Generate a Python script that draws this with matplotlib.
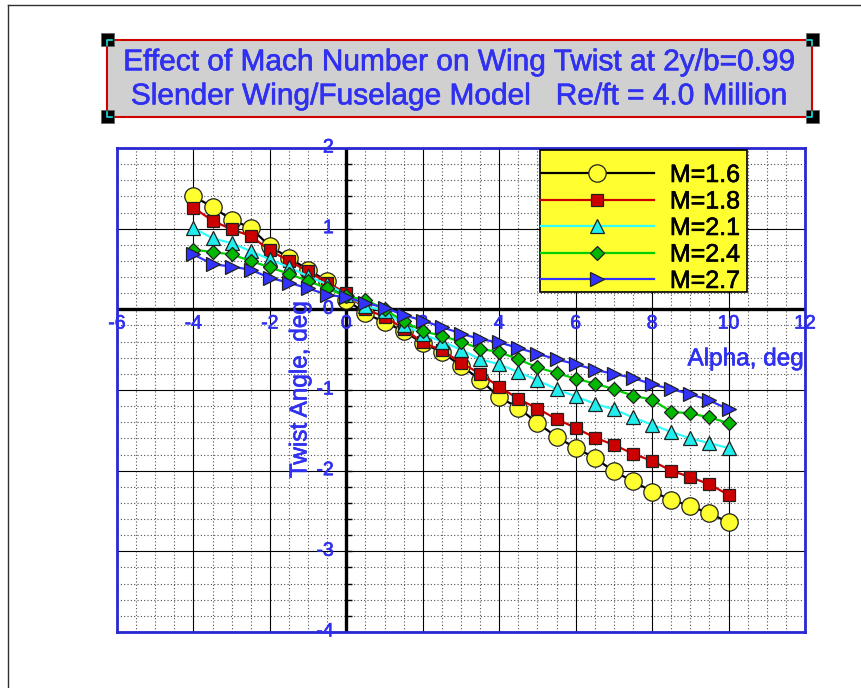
import matplotlib
matplotlib.use("Agg")
import matplotlib.pyplot as plt
import matplotlib.patches as mpatches
import matplotlib.transforms as mtransforms
import matplotlib.patheffects as pe
from matplotlib.ticker import MultipleLocator
import numpy as np

plt.rcParams['font.family'] = ['Liberation Sans', 'DejaVu Sans']

# angle of attack, deg
alpha = [-4, -3.5, -3, -2.5, -2, -1.5, -1, -0.5, 0, 0.5, 1, 1.5, 2, 2.5, 3, 3.5,
         4, 4.5, 5, 5.5, 6, 6.5, 7, 7.5, 8, 8.5, 9, 9.5, 10]

# twist angle at 2y/b = 0.99 for each Mach number, deg
twist_m16 = [1.40, 1.27, 1.11, 1.01, 0.78, 0.64, 0.49, 0.35, 0.12, -0.05, -0.16, -0.27,
             -0.42, -0.53, -0.70, -0.87, -1.09, -1.22, -1.41, -1.58, -1.72, -1.84,
             -2.01, -2.13, -2.26, -2.36, -2.44, -2.53, -2.64]
twist_m18 = [1.26, 1.10, 0.99, 0.91, 0.73, 0.60, 0.47, 0.33, 0.20, 0.00, -0.09, -0.24,
             -0.41, -0.51, -0.66, -0.80, -0.96, -1.11, -1.23, -1.36, -1.47, -1.59,
             -1.68, -1.79, -1.88, -2.00, -2.08, -2.17, -2.30]
twist_m21 = [1.01, 0.88, 0.82, 0.72, 0.62, 0.52, 0.41, 0.31, 0.18, 0.04, -0.02, -0.19,
             -0.31, -0.40, -0.50, -0.62, -0.68, -0.78, -0.88, -0.99, -1.08, -1.17,
             -1.24, -1.34, -1.43, -1.52, -1.60, -1.66, -1.72]
twist_m24 = [0.74, 0.71, 0.68, 0.60, 0.52, 0.44, 0.35, 0.26, 0.16, 0.12, 0.00, -0.15,
             -0.27, -0.33, -0.40, -0.49, -0.53, -0.62, -0.72, -0.79, -0.86, -0.92,
             -0.99, -1.07, -1.12, -1.27, -1.29, -1.34, -1.41]
twist_m27 = [0.68, 0.56, 0.53, 0.49, 0.39, 0.33, 0.26, 0.18, 0.15, 0.08, 0.02, -0.07,
             -0.14, -0.22, -0.30, -0.37, -0.41, -0.48, -0.55, -0.62, -0.68, -0.75,
             -0.80, -0.85, -0.93, -0.99, -1.05, -1.13, -1.24]

labels = ['M=1.6', 'M=1.8', 'M=2.1', 'M=2.4', 'M=2.7']
x_ticks = [-6, -4, -2, 0, 2, 4, 6, 8, 10, 12]
y_ticks = [-4, -3, -2, -1, 0, 1, 2]

blue = '#3030f0'
heavy = [pe.withStroke(linewidth=0.45, foreground=blue)]

fig = plt.figure(figsize=(8.62, 6.88), dpi=100)
ax = fig.add_axes([0.1357, 0.0814, 0.7982, 0.7035])

# series styles: (line colour, marker, marker face, marker size)
styles = [
    ('black', 'o', '#ffff30', 12.5),
    ('#cc0000', 's', '#cc0000', 8.5),
    ('#30ffff', '^', '#20eeee', 10),
    ('#00d000', 'D', '#00b800', 7.6),
    ('#3333ff', '>', '#3333ff', 10),
]
series = [twist_m16, twist_m18, twist_m21, twist_m24, twist_m27]
for i, (ys, (lc, mk, mf, ms)) in enumerate(zip(series, styles)):
    ax.plot(alpha, ys, color=lc, lw=1.6, marker=mk, mfc=mf, mec='#202020',
            mew=0.9, ms=ms, label=labels[i], zorder=5 + i)

ax.set_xlim(-6, 12)
ax.set_ylim(-4, 2)
ax.xaxis.set_major_locator(MultipleLocator(2))
ax.xaxis.set_minor_locator(MultipleLocator(0.5))
ax.yaxis.set_major_locator(MultipleLocator(1))
ax.yaxis.set_minor_locator(MultipleLocator(0.2))
ax.grid(which='major', color='black', lw=0.8, ls='-')
ax.grid(which='minor', color='#505050', lw=0.8, ls=(0, (1, 2)))
ax.tick_params(which='both', length=0, labelbottom=False, labelleft=False)
ax.set_axisbelow(True)

for s in ax.spines.values():
    s.set_color('#2828d0')
    s.set_linewidth(2)

# axes through the origin
ax.axhline(0, color='black', lw=2.4, zorder=2)
ax.axvline(0, color='black', lw=2.4, zorder=2)
ax.plot(np.zeros(31), np.linspace(-4, 2, 31), ls='none', marker=1, ms=4,
        mew=1, color='black', zorder=2)

# tick labels sit along the zero axes
below = mtransforms.offset_copy(ax.transData, fig=fig, x=0, y=-4.5, units='points')
left = mtransforms.offset_copy(ax.transData, fig=fig, x=-9, y=0, units='points')
for v in x_ticks:
    ax.text(v, 0, str(v), transform=below, ha='center', va='top', fontsize=14,
            color=blue, zorder=3, clip_on=False, path_effects=heavy)
for v in y_ticks:
    ax.text(0, v, str(v), transform=left, ha='right', va='center', fontsize=14,
            color=blue, zorder=3, clip_on=False, path_effects=heavy)

ax.text(10.44, -0.62, 'Alpha, deg', ha='center', va='center', fontsize=17.5,
        color=blue, zorder=3, path_effects=heavy)
ax.text(-1.2, -1.0, 'Twist Angle, deg', ha='center', va='center', fontsize=17.5,
        color=blue, rotation=90, zorder=3, path_effects=heavy)

# legend: yellow box drawn separately so its size can be set exactly
ax.add_patch(mpatches.Rectangle(((540 - 117) / 688, (632 - 292) / 484),
                                207 / 688, 142 / 484, transform=ax.transAxes,
                                facecolor='#ffff30', edgecolor='black', lw=1.2,
                                zorder=19))
leg = ax.legend(loc='upper right', bbox_to_anchor=(0.920, 0.9897),
                borderaxespad=0, fontsize=18, handlelength=4.5,
                handletextpad=0.65, labelspacing=0.1, borderpad=0.4,
                frameon=False)
leg.set_zorder(20)
for t in leg.get_texts():
    t.set_path_effects([pe.withStroke(linewidth=0.45, foreground='black')])

# title box with selection handles
box = mpatches.Rectangle((107 / 862, 1 - 117 / 688), 705 / 862, 77 / 688,
                         transform=fig.transFigure, facecolor='#d0d0d0',
                         edgecolor='#d00000', lw=1.5)
fig.patches.append(box)
for cx, cy, sx, sy in [(107, 40, 1, 1), (812, 40, -1, 1),
                       (107, 117, 1, -1), (812, 117, -1, -1)]:
    h = mpatches.Rectangle(((cx - 6) / 862, 1 - (cy + 6) / 688), 13 / 862, 13 / 688,
                           transform=fig.transFigure, facecolor='black',
                           edgecolor='#606060', lw=0.5)
    fig.patches.append(h)
    # cyan corner mark
    fig.add_artist(plt.Line2D([cx / 862, cx / 862, (cx + 5 * sx) / 862],
                              [1 - (cy + 5 * sy) / 688, 1 - cy / 688, 1 - cy / 688],
                              transform=fig.transFigure, color='#20e0e0', lw=1.2))

fig.text(0.533, 0.9095, 'Effect of Mach Number on Wing Twist at 2y/b=0.99',
         ha='center', va='center', fontsize=21.5, color=blue, path_effects=heavy)
fig.text(0.533, 0.8600, 'Slender Wing/Fuselage Model   Re/ft = 4.0 Million',
         ha='center', va='center', fontsize=21.5, color=blue, path_effects=heavy)

# page border
fig.add_artist(plt.Line2D([8 / 862, 8 / 862], [0, 1 - 5 / 688],
                          transform=fig.transFigure, color='#303030', lw=1))
fig.add_artist(plt.Line2D([8 / 862, 1], [1 - 5 / 688, 1 - 5 / 688],
                          transform=fig.transFigure, color='#303030', lw=1))

fig.savefig('out.png', dpi=100)
